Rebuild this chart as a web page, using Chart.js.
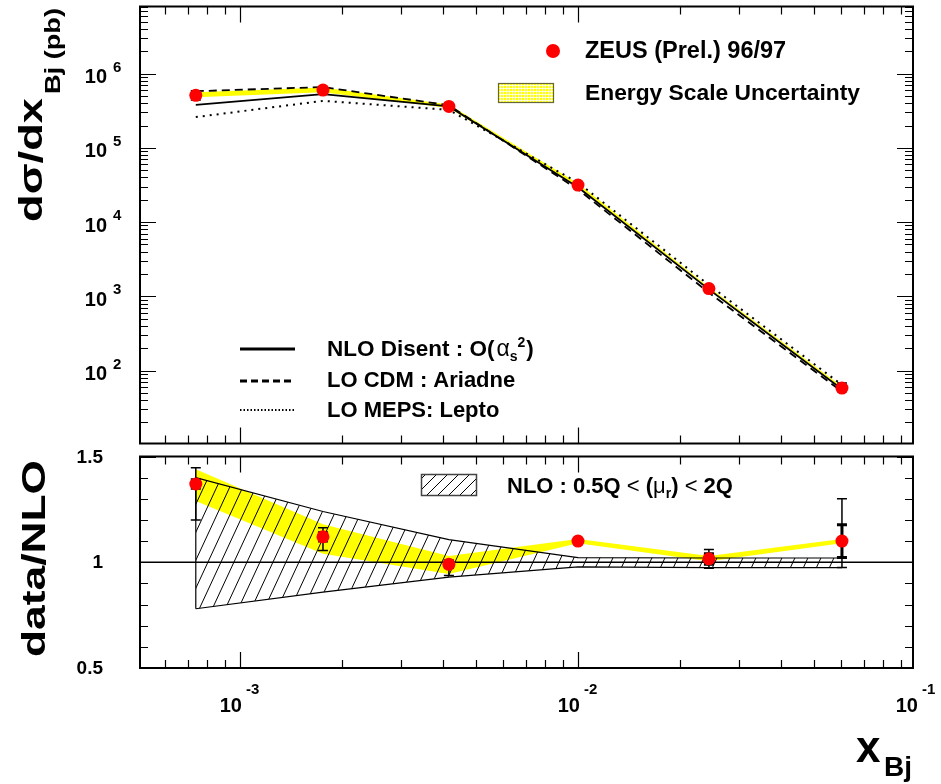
<!DOCTYPE html>
<html>
<head>
<meta charset="utf-8">
<script src="https://cdn.jsdelivr.net/npm/chart.js@4.4.1/dist/chart.umd.min.js"></script>
<style>
  body { margin: 0; background: #fff; }
  #wrap { position: relative; width: 941px; height: 784px; }
  canvas { position: absolute; left: 0; }
</style>
</head>
<body>
<div id="wrap">
  <canvas id="topChart" width="941" height="450" style="top:0"></canvas>
  <canvas id="ratioChart" width="941" height="334" style="top:450px"></canvas>
</div>
<script>
// x_Bj bin centres
const xBins = [7.4e-4, 1.76e-3, 4.15e-3, 1.0e-2, 2.44e-2, 6.04e-2];

// d sigma / dx (pb)
const zeusXsec   = [5.1e5, 6.0e5, 3.62e5, 3.15e4, 1.27e3, 58];
const zeusErrLo  = [4.4e5, 5.6e5, 3.4e5, 3.0e4, 1.2e3, 52];
const zeusErrHi  = [5.9e5, 6.5e5, 3.8e5, 3.35e4, 1.36e3, 68];
const nloDisent  = [3.8e5, 5.3e5, 3.62e5, 2.95e4, 1.24e3, 56];
const cdmAriadne = [5.8e5, 6.6e5, 3.75e5, 2.75e4, 1.12e3, 52];
const mepsLepto  = [2.6e5, 4.3e5, 3.25e5, 3.4e4, 1.42e3, 64];
const escaleHi   = [5.6e5, 6.5e5, 3.85e5, 3.3e4, 1.32e3, 61];
const escaleLo   = [4.8e5, 5.6e5, 3.45e5, 3.05e4, 1.22e3, 55];

// data / NLO
const ratioData    = [1.37, 1.12, 0.99, 1.10, 1.016, 1.10];
const ratioTotLo   = [1.20, 1.055, 0.937, 1.09, 0.972, 0.975];
const ratioTotHi   = [1.447, 1.163, 1.01, 1.11, 1.06, 1.30];
const ratioStatLo  = [1.35, 1.10, 0.975, 1.095, 0.99, 1.022];
const ratioStatHi  = [1.39, 1.14, 1.005, 1.105, 1.04, 1.177];
const ratioEsHi    = [1.44, 1.18, 1.03, 1.11, 1.03, 1.11];
const ratioEsLo    = [1.29, 1.04, 0.945, 1.09, 1.005, 1.09];
const nloScaleHi   = [1.40, 1.24, 1.107, 1.022, 1.02, 1.02];
const nloScaleLo   = [0.78, 0.859, 0.93, 0.978, 0.975, 0.975];

// tick labels
const topTickExps   = [2, 3, 4, 5, 6];
const xTickExps     = [-3, -2, -1];
const ratioTickVals = [0.5, 1, 1.5];
const ratioTickText = ["0.5", "1", "1.5"];

const FONT = '"Liberation Sans", Arial, Helvetica, sans-serif';
const B = (s) => "bold " + s + "px " + FONT;
const N = (s) => s + "px " + FONT;

const pts = (ys) => xBins.map((x, i) => ({ x: x, y: ys[i] }));

function logTicks(min, max) {
  const out = [];
  for (let e = Math.floor(Math.log10(min)); e <= Math.ceil(Math.log10(max)); e++) {
    for (let m = 1; m <= 9; m++) {
      const v = m * Math.pow(10, e);
      if (v >= min && v <= max) out.push({ v: v, major: m === 1 });
    }
  }
  return out;
}

function drawFrame(chart, yTicks) {
  const { ctx, chartArea: a } = chart;
  const xs = chart.scales.x, ys = chart.scales.y;
  ctx.save();
  ctx.strokeStyle = "#000";
  ctx.lineWidth = 1.2;
  ctx.beginPath();
  logTicks(xs.min, xs.max).forEach((t) => {
    const px = Math.round(xs.getPixelForValue(t.v)) + 0.5;
    const len = t.major ? 16 : 8;
    ctx.moveTo(px, a.top); ctx.lineTo(px, a.top + len);
    ctx.moveTo(px, a.bottom); ctx.lineTo(px, a.bottom - len);
  });
  yTicks.forEach((t) => {
    const py = Math.round(ys.getPixelForValue(t.v)) + 0.5;
    const len = t.major ? 16 : 8;
    ctx.moveTo(a.left, py); ctx.lineTo(a.left + len, py);
    ctx.moveTo(a.right, py); ctx.lineTo(a.right - len, py);
  });
  ctx.stroke();
  ctx.lineWidth = 2;
  ctx.strokeRect(a.left, a.top, a.right - a.left, a.bottom - a.top);
  ctx.restore();
}

function richText(ctx, x, y, parts) {
  ctx.textAlign = "left";
  ctx.textBaseline = "alphabetic";
  parts.forEach((p) => {
    ctx.font = p.font;
    ctx.fillText(p.t, x, y + (p.dy || 0));
    x += ctx.measureText(p.t).width + (p.gap || 0);
  });
}

// vertical (rotated) text, stretched along its length like the original
function vText(ctx, text, font, xBase, yStart, length) {
  ctx.save();
  ctx.font = font;
  const w = ctx.measureText(text).width;
  ctx.translate(xBase, yStart);
  ctx.rotate(-Math.PI / 2);
  ctx.scale(length / w, 1);
  ctx.textAlign = "left";
  ctx.textBaseline = "alphabetic";
  ctx.fillText(text, 0, 0);
  ctx.restore();
}

function errorBars(chart, lo, hi, stLo, stHi) {
  const { ctx } = chart;
  const xs = chart.scales.x, ys = chart.scales.y;
  ctx.save();
  ctx.strokeStyle = "#000";
  xBins.forEach((x, i) => {
    const px = xs.getPixelForValue(x);
    const y1 = ys.getPixelForValue(lo[i]), y2 = ys.getPixelForValue(hi[i]);
    ctx.lineWidth = 1.5;
    ctx.beginPath();
    ctx.moveTo(px, y1); ctx.lineTo(px, y2);
    ctx.moveTo(px - 5, y1); ctx.lineTo(px + 5, y1);
    ctx.moveTo(px - 5, y2); ctx.lineTo(px + 5, y2);
    ctx.stroke();
    if (stLo) {
      const s1 = ys.getPixelForValue(stLo[i]), s2 = ys.getPixelForValue(stHi[i]);
      ctx.lineWidth = 3;
      ctx.beginPath();
      ctx.moveTo(px, s1); ctx.lineTo(px, s2);
      ctx.moveTo(px - 5, s1); ctx.lineTo(px + 5, s1);
      ctx.moveTo(px - 5, s2); ctx.lineTo(px + 5, s2);
      ctx.stroke();
    }
  });
  ctx.restore();
}

// hatch pattern for the NLO scale band
function makeHatch() {
  const c = document.createElement("canvas");
  c.width = 13; c.height = 28;
  const g = c.getContext("2d");
  g.strokeStyle = "#000";
  g.lineWidth = 1;
  g.beginPath();
  for (let k = -1; k <= 1; k++) {
    g.moveTo(k * 13, 28); g.lineTo(k * 13 + 13, 0);
  }
  g.stroke();
  return g.createPattern(c, "repeat");
}
const hatch = makeHatch();

const topDecor = {
  id: "topDecor",
  beforeDatasetDraw(chart, args) {
    if (args.index === 0) errorBars(chart, zeusErrLo, zeusErrHi);
  },
  afterDraw(chart) {
    const { ctx } = chart;
    const ys = chart.scales.y;
    drawFrame(chart, logTicks(ys.min, ys.max));
    ctx.save();
    ctx.fillStyle = "#000";
    // y tick labels
    topTickExps.forEach((e) => {
      const py = ys.getPixelForValue(Math.pow(10, e));
      ctx.font = B(20);
      ctx.textAlign = "right"; ctx.textBaseline = "middle";
      ctx.fillText("10", 107, py + 4);
      ctx.font = B(15);
      ctx.textAlign = "left";
      ctx.fillText(String(e), 113, py - 6);
    });
    // y title
    vText(ctx, "d\u03c3/dx", B(34), 42, 222, 124);
    vText(ctx, "Bj (pb)", B(22), 60, 94, 86);
    // legend: ZEUS
    ctx.fillStyle = "#ff0000";
    ctx.beginPath(); ctx.arc(553, 51, 7, 0, Math.PI * 2); ctx.fill();
    ctx.fillStyle = "#000";
    ctx.font = B(23.5); ctx.textAlign = "left"; ctx.textBaseline = "middle";
    ctx.fillText("ZEUS (Prel.) 96/97", 585, 52);
    // legend: energy scale box
    ctx.fillStyle = "#ffff00";
    ctx.fillRect(498, 83, 56, 20);
    ctx.strokeStyle = "rgba(255,255,255,0.8)";
    ctx.lineWidth = 1;
    ctx.beginPath();
    for (let gx = 500.5; gx < 554; gx += 3) { ctx.moveTo(gx, 83); ctx.lineTo(gx, 103); }
    for (let gy = 85.5; gy < 103; gy += 3) { ctx.moveTo(498, gy); ctx.lineTo(554, gy); }
    ctx.stroke();
    ctx.strokeStyle = "#66663a"; ctx.lineWidth = 1.2;
    ctx.strokeRect(498.5, 83.5, 55, 19);
    ctx.fillStyle = "#000";
    ctx.font = B(22.8);
    ctx.fillText("Energy Scale Uncertainty", 585, 94);
    // legend: MC / NLO curves
    ctx.strokeStyle = "#000";
    ctx.lineWidth = 3;
    ctx.beginPath(); ctx.moveTo(240, 349); ctx.lineTo(295, 349); ctx.stroke();
    ctx.setLineDash([7, 4]);
    ctx.beginPath(); ctx.moveTo(240, 381); ctx.lineTo(295, 381); ctx.stroke();
    ctx.setLineDash([1.5, 2]);
    ctx.lineWidth = 2;
    ctx.beginPath(); ctx.moveTo(240, 410); ctx.lineTo(295, 410); ctx.stroke();
    ctx.setLineDash([]);
    richText(ctx, 327, 356, [
      { t: "NLO Disent : O(", font: B(22.5), gap: 2 },
      { t: "\u03b1", font: N(23) },
      { t: "s", font: B(14), dy: 5 },
      { t: "2", font: B(14), dy: -9, gap: 1 },
      { t: ")", font: B(22.5) }
    ]);
    ctx.font = B(22); ctx.textBaseline = "middle";
    ctx.fillText("LO CDM : Ariadne", 327, 381);
    ctx.fillText("LO MEPS: Lepto", 327, 411);
    ctx.restore();
  }
};

const ratioDecor = {
  id: "ratioDecor",
  beforeDatasetDraw(chart, args) {
    if (args.index !== 0) return;
    const { ctx, chartArea: a } = chart;
    const py = chart.scales.y.getPixelForValue(1);
    ctx.save();
    ctx.strokeStyle = "#000"; ctx.lineWidth = 1.5;
    ctx.beginPath(); ctx.moveTo(a.left, py); ctx.lineTo(a.right, py); ctx.stroke();
    ctx.restore();
    errorBars(chart, ratioTotLo, ratioTotHi, ratioStatLo, ratioStatHi);
  },
  afterDraw(chart) {
    const { ctx } = chart;
    const xs = chart.scales.x, ys = chart.scales.y;
    const yt = [];
    for (let k = 5; k <= 15; k++) yt.push({ v: k / 10, major: k % 5 === 0 });
    drawFrame(chart, yt);
    ctx.save();
    ctx.fillStyle = "#000";
    // y tick labels
    ctx.font = B(19); ctx.textAlign = "right"; ctx.textBaseline = "middle";
    ratioTickVals.forEach((v, i) => ctx.fillText(ratioTickText[i], 103, ys.getPixelForValue(v) + 1));
    // x tick labels
    xTickExps.forEach((e) => {
      const px = xs.getPixelForValue(Math.pow(10, e));
      ctx.font = B(20); ctx.textAlign = "right";
      ctx.fillText("10", px + 2, 256);
      ctx.font = B(15); ctx.textAlign = "left";
      ctx.fillText(String(e), px + 6, 240);
    });
    // axis titles
    vText(ctx, "data/NLO", B(34), 45, 207, 197);
    ctx.textAlign = "left"; ctx.textBaseline = "alphabetic";
    ctx.font = B(44); ctx.fillText("x", 856, 312);
    ctx.font = B(28); ctx.fillText("Bj", 884, 326);
    // legend: NLO scale band
    ctx.save();
    ctx.beginPath(); ctx.rect(421, 24, 55, 21); ctx.clip();
    ctx.strokeStyle = "#000"; ctx.lineWidth = 1;
    ctx.beginPath();
    for (let hx = 405; hx < 490; hx += 11) { ctx.moveTo(hx, 45); ctx.lineTo(hx + 21, 24); }
    ctx.stroke();
    ctx.restore();
    ctx.strokeStyle = "#444"; ctx.lineWidth = 1.5;
    ctx.strokeRect(421.5, 24.5, 55, 21);
    ctx.fillStyle = "#000";
    richText(ctx, 507, 43, [
      { t: "NLO : 0.5Q ", font: B(22) },
      { t: "<", font: N(22) },
      { t: " (", font: B(22) },
      { t: "\u03bc", font: N(22) },
      { t: "r", font: B(14), dy: 5 },
      { t: ") ", font: B(22) },
      { t: "<", font: N(22) },
      { t: " 2Q", font: B(22) }
    ]);
    ctx.restore();
  }
};

const commonOpts = {
  responsive: false,
  animation: false,
  devicePixelRatio: 1,
  plugins: { legend: { display: false }, tooltip: { enabled: false } },
  elements: { line: { tension: 0 } }
};

new Chart(document.getElementById("topChart"), {
  type: "line",
  data: {
    datasets: [
      { label: "ZEUS (Prel.) 96/97", data: pts(zeusXsec), showLine: false, pointRadius: 6.5,
        pointBackgroundColor: "#ff0000", pointBorderWidth: 0, order: 0 },
      { label: "NLO Disent", data: pts(nloDisent), borderColor: "#000", borderWidth: 1.8, pointRadius: 0, order: 1 },
      { label: "LO CDM : Ariadne", data: pts(cdmAriadne), borderColor: "#000", borderWidth: 1.8,
        borderDash: [8, 5], pointRadius: 0, order: 2 },
      { label: "LO MEPS: Lepto", data: pts(mepsLepto), borderColor: "#000", borderWidth: 2,
        borderDash: [2, 5], pointRadius: 0, order: 3 },
      { label: "Energy scale hi", data: pts(escaleHi), borderWidth: 0, pointRadius: 0,
        backgroundColor: "#ffff00", fill: "+1", order: 10 },
      { label: "Energy scale lo", data: pts(escaleLo), borderWidth: 0, pointRadius: 0, order: 11 }
    ]
  },
  options: Object.assign({}, commonOpts, {
    layout: { padding: { left: 140, right: 28, top: 6, bottom: 6 } },
    scales: {
      x: { type: "logarithmic", min: 5.06e-4, max: 0.098, display: false },
      y: { type: "logarithmic", min: 10.4, max: 8.03e6, display: false }
    }
  }),
  plugins: [topDecor]
});

new Chart(document.getElementById("ratioChart"), {
  type: "line",
  data: {
    datasets: [
      { label: "data/NLO", data: pts(ratioData), showLine: false, pointRadius: 6.5,
        pointBackgroundColor: "#ff0000", pointBorderWidth: 0, order: 0 },
      { label: "NLO scale hi", data: pts(nloScaleHi), borderColor: "#000", borderWidth: 1.2,
        pointRadius: 0, backgroundColor: hatch, fill: "+1", order: 5 },
      { label: "NLO scale lo", data: pts(nloScaleLo), borderColor: "#000", borderWidth: 1.2,
        pointRadius: 0, order: 6 },
      { label: "NLO scale edge", data: [{ x: xBins[0], y: nloScaleHi[0] }, { x: xBins[0], y: nloScaleLo[0] }],
        borderColor: "#000", borderWidth: 1.2, pointRadius: 0, order: 5 },
      { label: "Energy scale hi", data: pts(ratioEsHi), borderWidth: 0, pointRadius: 0,
        backgroundColor: "#ffff00", fill: "+1", order: 10 },
      { label: "Energy scale lo", data: pts(ratioEsLo), borderWidth: 0, pointRadius: 0, order: 11 }
    ]
  },
  options: Object.assign({}, commonOpts, {
    layout: { padding: { left: 140, right: 28, top: 5, bottom: 116 } },
    scales: {
      x: { type: "logarithmic", min: 5.06e-4, max: 0.098, display: false },
      y: { type: "linear", min: 0.5, max: 1.5, display: false }
    }
  }),
  plugins: [ratioDecor]
});
</script>
</body>
</html>
